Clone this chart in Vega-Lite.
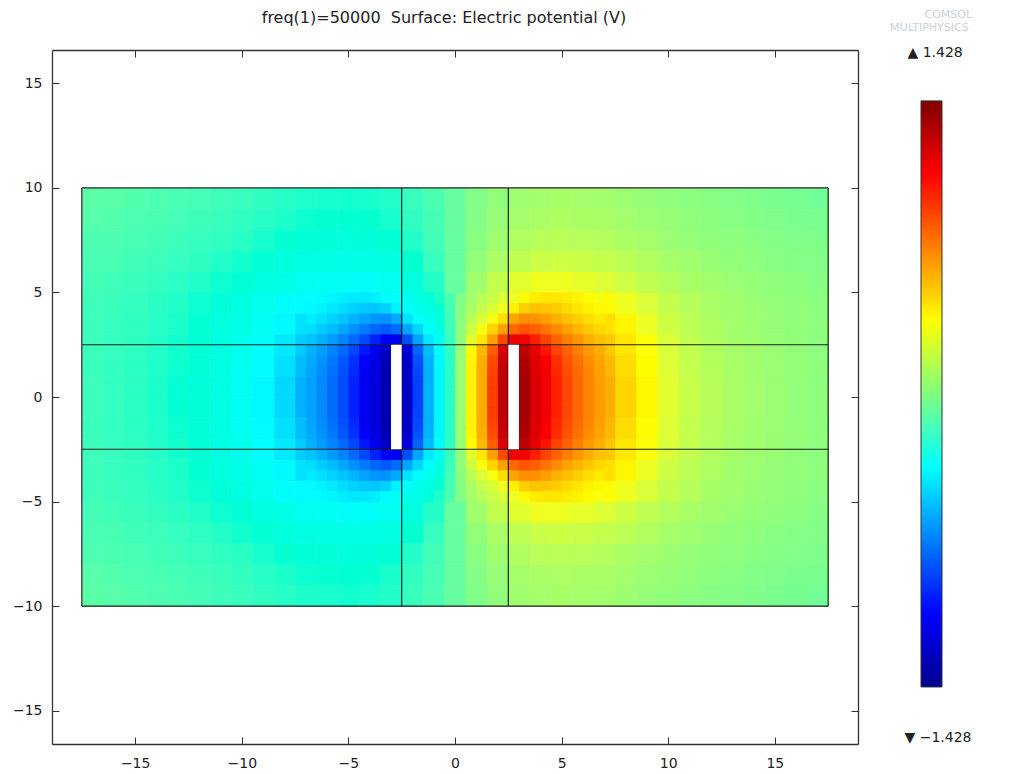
{
"$schema":"https://vega.github.io/schema/vega-lite/v6.json",
"padding":{"left":12,"top":8,"right":5,"bottom":5},
"config":{"font":"DejaVu Sans","view":{"stroke":null},"axis":{"labelFont":"DejaVu Sans","labelFontSize":14,"labelColor":"#222","domainColor":"#333","tickColor":"#333","domainWidth":1.3,"grid":false}},
"datasets":{
"field":[
{"x":-17.5,"y":9,"v":-0.025},{"x":-16.5,"y":9,"v":-0.035},{"x":-15.5,"y":9,"v":-0.045},{"x":-14.5,"y":9,"v":-0.055},{"x":-13.5,"y":9,"v":-0.065},{"x":-12.5,"y":9,"v":-0.075},{"x":-11.5,"y":9,"v":-0.085},{"x":-10.5,"y":9,"v":-0.095},{"x":-9.5,"y":9,"v":-0.11},{"x":-8.5,"y":9,"v":-0.125},{"x":-7.5,"y":9,"v":-0.14},{"x":-6.5,"y":9,"v":-0.145},{"x":-5.5,"y":9,"v":-0.15},{"x":-4.5,"y":9,"v":-0.145},{"x":-3.5,"y":9,"v":-0.13},{"x":-2.5,"y":9,"v":-0.1},{"x":-1.5,"y":9,"v":-0.06},{"x":-0.5,"y":9,"v":0},{"x":0.5,"y":9,"v":0.06},{"x":1.5,"y":9,"v":0.1},{"x":2.5,"y":9,"v":0.13},{"x":3.5,"y":9,"v":0.145},{"x":4.5,"y":9,"v":0.15},{"x":5.5,"y":9,"v":0.145},{"x":6.5,"y":9,"v":0.14},{"x":7.5,"y":9,"v":0.125},{"x":8.5,"y":9,"v":0.11},{"x":9.5,"y":9,"v":0.095},{"x":10.5,"y":9,"v":0.085},{"x":11.5,"y":9,"v":0.075},{"x":12.5,"y":9,"v":0.065},{"x":13.5,"y":9,"v":0.055},{"x":14.5,"y":9,"v":0.045},{"x":15.5,"y":9,"v":0.035},{"x":16.5,"y":9,"v":0.025},
{"x":-17.5,"y":8,"v":-0.04},{"x":-16.5,"y":8,"v":-0.045},{"x":-15.5,"y":8,"v":-0.055},{"x":-14.5,"y":8,"v":-0.065},{"x":-13.5,"y":8,"v":-0.075},{"x":-12.5,"y":8,"v":-0.085},{"x":-11.5,"y":8,"v":-0.095},{"x":-10.5,"y":8,"v":-0.11},{"x":-9.5,"y":8,"v":-0.125},{"x":-8.5,"y":8,"v":-0.14},{"x":-7.5,"y":8,"v":-0.155},{"x":-6.5,"y":8,"v":-0.16},{"x":-5.5,"y":8,"v":-0.165},{"x":-4.5,"y":8,"v":-0.16},{"x":-3.5,"y":8,"v":-0.145},{"x":-2.5,"y":8,"v":-0.11},{"x":-1.5,"y":8,"v":-0.07},{"x":-0.5,"y":8,"v":0},{"x":0.5,"y":8,"v":0.07},{"x":1.5,"y":8,"v":0.11},{"x":2.5,"y":8,"v":0.145},{"x":3.5,"y":8,"v":0.16},{"x":4.5,"y":8,"v":0.165},{"x":5.5,"y":8,"v":0.16},{"x":6.5,"y":8,"v":0.155},{"x":7.5,"y":8,"v":0.14},{"x":8.5,"y":8,"v":0.125},{"x":9.5,"y":8,"v":0.11},{"x":10.5,"y":8,"v":0.095},{"x":11.5,"y":8,"v":0.085},{"x":12.5,"y":8,"v":0.075},{"x":13.5,"y":8,"v":0.065},{"x":14.5,"y":8,"v":0.055},{"x":15.5,"y":8,"v":0.045},{"x":16.5,"y":8,"v":0.04},
{"x":-17.5,"y":7,"v":-0.055},{"x":-16.5,"y":7,"v":-0.06},{"x":-15.5,"y":7,"v":-0.07},{"x":-14.5,"y":7,"v":-0.08},{"x":-13.5,"y":7,"v":-0.09},{"x":-12.5,"y":7,"v":-0.1},{"x":-11.5,"y":7,"v":-0.11},{"x":-10.5,"y":7,"v":-0.125},{"x":-9.5,"y":7,"v":-0.145},{"x":-8.5,"y":7,"v":-0.16},{"x":-7.5,"y":7,"v":-0.18},{"x":-6.5,"y":7,"v":-0.19},{"x":-5.5,"y":7,"v":-0.195},{"x":-4.5,"y":7,"v":-0.19},{"x":-3.5,"y":7,"v":-0.17},{"x":-2.5,"y":7,"v":-0.13},{"x":-1.5,"y":7,"v":-0.08},{"x":-0.5,"y":7,"v":0},{"x":0.5,"y":7,"v":0.08},{"x":1.5,"y":7,"v":0.13},{"x":2.5,"y":7,"v":0.17},{"x":3.5,"y":7,"v":0.19},{"x":4.5,"y":7,"v":0.195},{"x":5.5,"y":7,"v":0.19},{"x":6.5,"y":7,"v":0.18},{"x":7.5,"y":7,"v":0.16},{"x":8.5,"y":7,"v":0.145},{"x":9.5,"y":7,"v":0.125},{"x":10.5,"y":7,"v":0.11},{"x":11.5,"y":7,"v":0.1},{"x":12.5,"y":7,"v":0.09},{"x":13.5,"y":7,"v":0.08},{"x":14.5,"y":7,"v":0.07},{"x":15.5,"y":7,"v":0.06},{"x":16.5,"y":7,"v":0.055},
{"x":-17.5,"y":6,"v":-0.065},{"x":-16.5,"y":6,"v":-0.07},{"x":-15.5,"y":6,"v":-0.08},{"x":-14.5,"y":6,"v":-0.09},{"x":-13.5,"y":6,"v":-0.1},{"x":-12.5,"y":6,"v":-0.115},{"x":-11.5,"y":6,"v":-0.13},{"x":-10.5,"y":6,"v":-0.15},{"x":-9.5,"y":6,"v":-0.175},{"x":-8.5,"y":6,"v":-0.2},{"x":-7.5,"y":6,"v":-0.22},{"x":-6.5,"y":6,"v":-0.235},{"x":-5.5,"y":6,"v":-0.24},{"x":-4.5,"y":6,"v":-0.235},{"x":-3.5,"y":6,"v":-0.21},{"x":-2.5,"y":6,"v":-0.16},{"x":-1.5,"y":6,"v":-0.1},{"x":-0.5,"y":6,"v":0},{"x":0.5,"y":6,"v":0.1},{"x":1.5,"y":6,"v":0.16},{"x":2.5,"y":6,"v":0.21},{"x":3.5,"y":6,"v":0.235},{"x":4.5,"y":6,"v":0.24},{"x":5.5,"y":6,"v":0.235},{"x":6.5,"y":6,"v":0.22},{"x":7.5,"y":6,"v":0.2},{"x":8.5,"y":6,"v":0.175},{"x":9.5,"y":6,"v":0.15},{"x":10.5,"y":6,"v":0.13},{"x":11.5,"y":6,"v":0.115},{"x":12.5,"y":6,"v":0.1},{"x":13.5,"y":6,"v":0.09},{"x":14.5,"y":6,"v":0.08},{"x":15.5,"y":6,"v":0.07},{"x":16.5,"y":6,"v":0.065},
{"x":-17.5,"y":5,"v":-0.075},{"x":-16.5,"y":5,"v":-0.085},{"x":-15.5,"y":5,"v":-0.095},{"x":-14.5,"y":5,"v":-0.105},{"x":-13.5,"y":5,"v":-0.12},{"x":-12.5,"y":5,"v":-0.135},{"x":-11.5,"y":5,"v":-0.155},{"x":-10.5,"y":5,"v":-0.18},{"x":-9.5,"y":5,"v":-0.21},{"x":-8.5,"y":5,"v":-0.245},{"x":-7.5,"y":5,"v":-0.28},{"x":-6.5,"y":5,"v":-0.3},{"x":-5.5,"y":5,"v":-0.32},{"x":-4.5,"y":5,"v":-0.32},{"x":-3.5,"y":5,"v":-0.29},{"x":-2.5,"y":5,"v":-0.22},{"x":-1.5,"y":5,"v":-0.13},{"x":-0.5,"y":5,"v":0},{"x":0.5,"y":5,"v":0.13},{"x":1.5,"y":5,"v":0.22},{"x":2.5,"y":5,"v":0.29},{"x":3.5,"y":5,"v":0.32},{"x":4.5,"y":5,"v":0.32},{"x":5.5,"y":5,"v":0.3},{"x":6.5,"y":5,"v":0.28},{"x":7.5,"y":5,"v":0.245},{"x":8.5,"y":5,"v":0.21},{"x":9.5,"y":5,"v":0.18},{"x":10.5,"y":5,"v":0.155},{"x":11.5,"y":5,"v":0.135},{"x":12.5,"y":5,"v":0.12},{"x":13.5,"y":5,"v":0.105},{"x":14.5,"y":5,"v":0.095},{"x":15.5,"y":5,"v":0.085},{"x":16.5,"y":5,"v":0.075},
{"x":-17.5,"y":4,"v":-0.085},{"x":-16.5,"y":4,"v":-0.095},{"x":-15.5,"y":4,"v":-0.105},{"x":-14.5,"y":4,"v":-0.12},{"x":-13.5,"y":4,"v":-0.135},{"x":-12.5,"y":4,"v":-0.155},{"x":-11.5,"y":4,"v":-0.185},{"x":-10.5,"y":4,"v":-0.22},{"x":-9.5,"y":4,"v":-0.27},{"x":-8.5,"y":4,"v":-0.32},{"x":-7.5,"y":4,"v":-0.37},{"x":-6.5,"y":4,"v":-0.44},{"x":-5.5,"y":4,"v":-0.5},{"x":-4.5,"y":4,"v":-0.52},{"x":-3.5,"y":4,"v":-0.45},{"x":-2.5,"y":4,"v":-0.3},{"x":-1.5,"y":4,"v":-0.18},{"x":-0.5,"y":4,"v":0},{"x":0.5,"y":4,"v":0.18},{"x":1.5,"y":4,"v":0.3},{"x":2.5,"y":4,"v":0.45},{"x":3.5,"y":4,"v":0.52},{"x":4.5,"y":4,"v":0.5},{"x":5.5,"y":4,"v":0.44},{"x":6.5,"y":4,"v":0.37},{"x":7.5,"y":4,"v":0.32},{"x":8.5,"y":4,"v":0.27},{"x":9.5,"y":4,"v":0.22},{"x":10.5,"y":4,"v":0.185},{"x":11.5,"y":4,"v":0.155},{"x":12.5,"y":4,"v":0.135},{"x":13.5,"y":4,"v":0.12},{"x":14.5,"y":4,"v":0.105},{"x":15.5,"y":4,"v":0.095},{"x":16.5,"y":4,"v":0.085},
{"x":-17.5,"y":3,"v":-0.09},{"x":-16.5,"y":3,"v":-0.1},{"x":-15.5,"y":3,"v":-0.11},{"x":-14.5,"y":3,"v":-0.125},{"x":-13.5,"y":3,"v":-0.14},{"x":-12.5,"y":3,"v":-0.165},{"x":-11.5,"y":3,"v":-0.2},{"x":-10.5,"y":3,"v":-0.245},{"x":-9.5,"y":3,"v":-0.31},{"x":-8.5,"y":3,"v":-0.39},{"x":-7.5,"y":3,"v":-0.48},{"x":-6.5,"y":3,"v":-0.58},{"x":-5.5,"y":3,"v":-0.7},{"x":-4.5,"y":3,"v":-0.8},{"x":-3.5,"y":3,"v":-0.86},{"x":-2.5,"y":3,"v":-0.58},{"x":-1.5,"y":3,"v":-0.29},{"x":-0.5,"y":3,"v":0},{"x":0.5,"y":3,"v":0.29},{"x":1.5,"y":3,"v":0.58},{"x":2.5,"y":3,"v":0.86},{"x":3.5,"y":3,"v":0.8},{"x":4.5,"y":3,"v":0.7},{"x":5.5,"y":3,"v":0.58},{"x":6.5,"y":3,"v":0.48},{"x":7.5,"y":3,"v":0.39},{"x":8.5,"y":3,"v":0.31},{"x":9.5,"y":3,"v":0.245},{"x":10.5,"y":3,"v":0.2},{"x":11.5,"y":3,"v":0.165},{"x":12.5,"y":3,"v":0.14},{"x":13.5,"y":3,"v":0.125},{"x":14.5,"y":3,"v":0.11},{"x":15.5,"y":3,"v":0.1},{"x":16.5,"y":3,"v":0.09},
{"x":-17.5,"y":2,"v":-0.09},{"x":-16.5,"y":2,"v":-0.1},{"x":-15.5,"y":2,"v":-0.115},{"x":-14.5,"y":2,"v":-0.13},{"x":-13.5,"y":2,"v":-0.15},{"x":-12.5,"y":2,"v":-0.175},{"x":-11.5,"y":2,"v":-0.215},{"x":-10.5,"y":2,"v":-0.27},{"x":-9.5,"y":2,"v":-0.35},{"x":-8.5,"y":2,"v":-0.45},{"x":-7.5,"y":2,"v":-0.57},{"x":-6.5,"y":2,"v":-0.73},{"x":-5.5,"y":2,"v":-0.92},{"x":-4.5,"y":2,"v":-1.12},{"x":-3.5,"y":2,"v":-1.25},{"x":-2.5,"y":2,"v":-0.93},{"x":-1.5,"y":2,"v":-0.47},{"x":-0.5,"y":2,"v":0},{"x":0.5,"y":2,"v":0.47},{"x":1.5,"y":2,"v":0.93},{"x":2.5,"y":2,"v":1.25},{"x":3.5,"y":2,"v":1.12},{"x":4.5,"y":2,"v":0.92},{"x":5.5,"y":2,"v":0.73},{"x":6.5,"y":2,"v":0.57},{"x":7.5,"y":2,"v":0.45},{"x":8.5,"y":2,"v":0.35},{"x":9.5,"y":2,"v":0.27},{"x":10.5,"y":2,"v":0.215},{"x":11.5,"y":2,"v":0.175},{"x":12.5,"y":2,"v":0.15},{"x":13.5,"y":2,"v":0.13},{"x":14.5,"y":2,"v":0.115},{"x":15.5,"y":2,"v":0.1},{"x":16.5,"y":2,"v":0.09},
{"x":-17.5,"y":1,"v":-0.095},{"x":-16.5,"y":1,"v":-0.105},{"x":-15.5,"y":1,"v":-0.12},{"x":-14.5,"y":1,"v":-0.135},{"x":-13.5,"y":1,"v":-0.155},{"x":-12.5,"y":1,"v":-0.18},{"x":-11.5,"y":1,"v":-0.22},{"x":-10.5,"y":1,"v":-0.28},{"x":-9.5,"y":1,"v":-0.37},{"x":-8.5,"y":1,"v":-0.49},{"x":-7.5,"y":1,"v":-0.63},{"x":-6.5,"y":1,"v":-0.8},{"x":-5.5,"y":1,"v":-1.0},{"x":-4.5,"y":1,"v":-1.22},{"x":-3.5,"y":1,"v":-1.37},{"x":-2.5,"y":1,"v":-1.08},{"x":-1.5,"y":1,"v":-0.53},{"x":-0.5,"y":1,"v":0},{"x":0.5,"y":1,"v":0.53},{"x":1.5,"y":1,"v":1.08},{"x":2.5,"y":1,"v":1.37},{"x":3.5,"y":1,"v":1.22},{"x":4.5,"y":1,"v":1.0},{"x":5.5,"y":1,"v":0.8},{"x":6.5,"y":1,"v":0.63},{"x":7.5,"y":1,"v":0.49},{"x":8.5,"y":1,"v":0.37},{"x":9.5,"y":1,"v":0.28},{"x":10.5,"y":1,"v":0.22},{"x":11.5,"y":1,"v":0.18},{"x":12.5,"y":1,"v":0.155},{"x":13.5,"y":1,"v":0.135},{"x":14.5,"y":1,"v":0.12},{"x":15.5,"y":1,"v":0.105},{"x":16.5,"y":1,"v":0.095},
{"x":-17.5,"y":0,"v":-0.09},{"x":-16.5,"y":0,"v":-0.105},{"x":-15.5,"y":0,"v":-0.12},{"x":-14.5,"y":0,"v":-0.14},{"x":-13.5,"y":0,"v":-0.16},{"x":-12.5,"y":0,"v":-0.185},{"x":-11.5,"y":0,"v":-0.225},{"x":-10.5,"y":0,"v":-0.29},{"x":-9.5,"y":0,"v":-0.39},{"x":-8.5,"y":0,"v":-0.52},{"x":-7.5,"y":0,"v":-0.67},{"x":-6.5,"y":0,"v":-0.84},{"x":-5.5,"y":0,"v":-1.03},{"x":-4.5,"y":0,"v":-1.25},{"x":-3.5,"y":0,"v":-1.38},{"x":-2.5,"y":0,"v":-1.13},{"x":-1.5,"y":0,"v":-0.55},{"x":-0.5,"y":0,"v":0},{"x":0.5,"y":0,"v":0.55},{"x":1.5,"y":0,"v":1.13},{"x":2.5,"y":0,"v":1.38},{"x":3.5,"y":0,"v":1.25},{"x":4.5,"y":0,"v":1.03},{"x":5.5,"y":0,"v":0.84},{"x":6.5,"y":0,"v":0.67},{"x":7.5,"y":0,"v":0.52},{"x":8.5,"y":0,"v":0.39},{"x":9.5,"y":0,"v":0.29},{"x":10.5,"y":0,"v":0.225},{"x":11.5,"y":0,"v":0.185},{"x":12.5,"y":0,"v":0.16},{"x":13.5,"y":0,"v":0.14},{"x":14.5,"y":0,"v":0.12},{"x":15.5,"y":0,"v":0.105},{"x":16.5,"y":0,"v":0.09},
{"x":-17.5,"y":-1,"v":-0.09},{"x":-16.5,"y":-1,"v":-0.105},{"x":-15.5,"y":-1,"v":-0.12},{"x":-14.5,"y":-1,"v":-0.14},{"x":-13.5,"y":-1,"v":-0.16},{"x":-12.5,"y":-1,"v":-0.185},{"x":-11.5,"y":-1,"v":-0.225},{"x":-10.5,"y":-1,"v":-0.29},{"x":-9.5,"y":-1,"v":-0.39},{"x":-8.5,"y":-1,"v":-0.52},{"x":-7.5,"y":-1,"v":-0.67},{"x":-6.5,"y":-1,"v":-0.84},{"x":-5.5,"y":-1,"v":-1.03},{"x":-4.5,"y":-1,"v":-1.25},{"x":-3.5,"y":-1,"v":-1.38},{"x":-2.5,"y":-1,"v":-1.13},{"x":-1.5,"y":-1,"v":-0.55},{"x":-0.5,"y":-1,"v":0},{"x":0.5,"y":-1,"v":0.55},{"x":1.5,"y":-1,"v":1.13},{"x":2.5,"y":-1,"v":1.38},{"x":3.5,"y":-1,"v":1.25},{"x":4.5,"y":-1,"v":1.03},{"x":5.5,"y":-1,"v":0.84},{"x":6.5,"y":-1,"v":0.67},{"x":7.5,"y":-1,"v":0.52},{"x":8.5,"y":-1,"v":0.39},{"x":9.5,"y":-1,"v":0.29},{"x":10.5,"y":-1,"v":0.225},{"x":11.5,"y":-1,"v":0.185},{"x":12.5,"y":-1,"v":0.16},{"x":13.5,"y":-1,"v":0.14},{"x":14.5,"y":-1,"v":0.12},{"x":15.5,"y":-1,"v":0.105},{"x":16.5,"y":-1,"v":0.09},
{"x":-17.5,"y":-2,"v":-0.095},{"x":-16.5,"y":-2,"v":-0.105},{"x":-15.5,"y":-2,"v":-0.12},{"x":-14.5,"y":-2,"v":-0.135},{"x":-13.5,"y":-2,"v":-0.155},{"x":-12.5,"y":-2,"v":-0.18},{"x":-11.5,"y":-2,"v":-0.22},{"x":-10.5,"y":-2,"v":-0.28},{"x":-9.5,"y":-2,"v":-0.37},{"x":-8.5,"y":-2,"v":-0.49},{"x":-7.5,"y":-2,"v":-0.63},{"x":-6.5,"y":-2,"v":-0.8},{"x":-5.5,"y":-2,"v":-1.0},{"x":-4.5,"y":-2,"v":-1.22},{"x":-3.5,"y":-2,"v":-1.37},{"x":-2.5,"y":-2,"v":-1.08},{"x":-1.5,"y":-2,"v":-0.53},{"x":-0.5,"y":-2,"v":0},{"x":0.5,"y":-2,"v":0.53},{"x":1.5,"y":-2,"v":1.08},{"x":2.5,"y":-2,"v":1.37},{"x":3.5,"y":-2,"v":1.22},{"x":4.5,"y":-2,"v":1.0},{"x":5.5,"y":-2,"v":0.8},{"x":6.5,"y":-2,"v":0.63},{"x":7.5,"y":-2,"v":0.49},{"x":8.5,"y":-2,"v":0.37},{"x":9.5,"y":-2,"v":0.28},{"x":10.5,"y":-2,"v":0.22},{"x":11.5,"y":-2,"v":0.18},{"x":12.5,"y":-2,"v":0.155},{"x":13.5,"y":-2,"v":0.135},{"x":14.5,"y":-2,"v":0.12},{"x":15.5,"y":-2,"v":0.105},{"x":16.5,"y":-2,"v":0.095},
{"x":-17.5,"y":-3,"v":-0.09},{"x":-16.5,"y":-3,"v":-0.1},{"x":-15.5,"y":-3,"v":-0.115},{"x":-14.5,"y":-3,"v":-0.13},{"x":-13.5,"y":-3,"v":-0.15},{"x":-12.5,"y":-3,"v":-0.175},{"x":-11.5,"y":-3,"v":-0.215},{"x":-10.5,"y":-3,"v":-0.27},{"x":-9.5,"y":-3,"v":-0.35},{"x":-8.5,"y":-3,"v":-0.45},{"x":-7.5,"y":-3,"v":-0.57},{"x":-6.5,"y":-3,"v":-0.73},{"x":-5.5,"y":-3,"v":-0.92},{"x":-4.5,"y":-3,"v":-1.12},{"x":-3.5,"y":-3,"v":-1.25},{"x":-2.5,"y":-3,"v":-0.93},{"x":-1.5,"y":-3,"v":-0.47},{"x":-0.5,"y":-3,"v":0},{"x":0.5,"y":-3,"v":0.47},{"x":1.5,"y":-3,"v":0.93},{"x":2.5,"y":-3,"v":1.25},{"x":3.5,"y":-3,"v":1.12},{"x":4.5,"y":-3,"v":0.92},{"x":5.5,"y":-3,"v":0.73},{"x":6.5,"y":-3,"v":0.57},{"x":7.5,"y":-3,"v":0.45},{"x":8.5,"y":-3,"v":0.35},{"x":9.5,"y":-3,"v":0.27},{"x":10.5,"y":-3,"v":0.215},{"x":11.5,"y":-3,"v":0.175},{"x":12.5,"y":-3,"v":0.15},{"x":13.5,"y":-3,"v":0.13},{"x":14.5,"y":-3,"v":0.115},{"x":15.5,"y":-3,"v":0.1},{"x":16.5,"y":-3,"v":0.09},
{"x":-17.5,"y":-4,"v":-0.09},{"x":-16.5,"y":-4,"v":-0.1},{"x":-15.5,"y":-4,"v":-0.11},{"x":-14.5,"y":-4,"v":-0.125},{"x":-13.5,"y":-4,"v":-0.14},{"x":-12.5,"y":-4,"v":-0.165},{"x":-11.5,"y":-4,"v":-0.2},{"x":-10.5,"y":-4,"v":-0.245},{"x":-9.5,"y":-4,"v":-0.31},{"x":-8.5,"y":-4,"v":-0.39},{"x":-7.5,"y":-4,"v":-0.48},{"x":-6.5,"y":-4,"v":-0.58},{"x":-5.5,"y":-4,"v":-0.7},{"x":-4.5,"y":-4,"v":-0.8},{"x":-3.5,"y":-4,"v":-0.86},{"x":-2.5,"y":-4,"v":-0.58},{"x":-1.5,"y":-4,"v":-0.29},{"x":-0.5,"y":-4,"v":0},{"x":0.5,"y":-4,"v":0.29},{"x":1.5,"y":-4,"v":0.58},{"x":2.5,"y":-4,"v":0.86},{"x":3.5,"y":-4,"v":0.8},{"x":4.5,"y":-4,"v":0.7},{"x":5.5,"y":-4,"v":0.58},{"x":6.5,"y":-4,"v":0.48},{"x":7.5,"y":-4,"v":0.39},{"x":8.5,"y":-4,"v":0.31},{"x":9.5,"y":-4,"v":0.245},{"x":10.5,"y":-4,"v":0.2},{"x":11.5,"y":-4,"v":0.165},{"x":12.5,"y":-4,"v":0.14},{"x":13.5,"y":-4,"v":0.125},{"x":14.5,"y":-4,"v":0.11},{"x":15.5,"y":-4,"v":0.1},{"x":16.5,"y":-4,"v":0.09},
{"x":-17.5,"y":-5,"v":-0.085},{"x":-16.5,"y":-5,"v":-0.095},{"x":-15.5,"y":-5,"v":-0.105},{"x":-14.5,"y":-5,"v":-0.12},{"x":-13.5,"y":-5,"v":-0.135},{"x":-12.5,"y":-5,"v":-0.155},{"x":-11.5,"y":-5,"v":-0.185},{"x":-10.5,"y":-5,"v":-0.22},{"x":-9.5,"y":-5,"v":-0.27},{"x":-8.5,"y":-5,"v":-0.32},{"x":-7.5,"y":-5,"v":-0.37},{"x":-6.5,"y":-5,"v":-0.44},{"x":-5.5,"y":-5,"v":-0.5},{"x":-4.5,"y":-5,"v":-0.52},{"x":-3.5,"y":-5,"v":-0.45},{"x":-2.5,"y":-5,"v":-0.3},{"x":-1.5,"y":-5,"v":-0.18},{"x":-0.5,"y":-5,"v":0},{"x":0.5,"y":-5,"v":0.18},{"x":1.5,"y":-5,"v":0.3},{"x":2.5,"y":-5,"v":0.45},{"x":3.5,"y":-5,"v":0.52},{"x":4.5,"y":-5,"v":0.5},{"x":5.5,"y":-5,"v":0.44},{"x":6.5,"y":-5,"v":0.37},{"x":7.5,"y":-5,"v":0.32},{"x":8.5,"y":-5,"v":0.27},{"x":9.5,"y":-5,"v":0.22},{"x":10.5,"y":-5,"v":0.185},{"x":11.5,"y":-5,"v":0.155},{"x":12.5,"y":-5,"v":0.135},{"x":13.5,"y":-5,"v":0.12},{"x":14.5,"y":-5,"v":0.105},{"x":15.5,"y":-5,"v":0.095},{"x":16.5,"y":-5,"v":0.085},
{"x":-17.5,"y":-6,"v":-0.075},{"x":-16.5,"y":-6,"v":-0.085},{"x":-15.5,"y":-6,"v":-0.095},{"x":-14.5,"y":-6,"v":-0.105},{"x":-13.5,"y":-6,"v":-0.12},{"x":-12.5,"y":-6,"v":-0.135},{"x":-11.5,"y":-6,"v":-0.155},{"x":-10.5,"y":-6,"v":-0.18},{"x":-9.5,"y":-6,"v":-0.21},{"x":-8.5,"y":-6,"v":-0.245},{"x":-7.5,"y":-6,"v":-0.28},{"x":-6.5,"y":-6,"v":-0.3},{"x":-5.5,"y":-6,"v":-0.32},{"x":-4.5,"y":-6,"v":-0.32},{"x":-3.5,"y":-6,"v":-0.29},{"x":-2.5,"y":-6,"v":-0.22},{"x":-1.5,"y":-6,"v":-0.13},{"x":-0.5,"y":-6,"v":0},{"x":0.5,"y":-6,"v":0.13},{"x":1.5,"y":-6,"v":0.22},{"x":2.5,"y":-6,"v":0.29},{"x":3.5,"y":-6,"v":0.32},{"x":4.5,"y":-6,"v":0.32},{"x":5.5,"y":-6,"v":0.3},{"x":6.5,"y":-6,"v":0.28},{"x":7.5,"y":-6,"v":0.245},{"x":8.5,"y":-6,"v":0.21},{"x":9.5,"y":-6,"v":0.18},{"x":10.5,"y":-6,"v":0.155},{"x":11.5,"y":-6,"v":0.135},{"x":12.5,"y":-6,"v":0.12},{"x":13.5,"y":-6,"v":0.105},{"x":14.5,"y":-6,"v":0.095},{"x":15.5,"y":-6,"v":0.085},{"x":16.5,"y":-6,"v":0.075},
{"x":-17.5,"y":-7,"v":-0.065},{"x":-16.5,"y":-7,"v":-0.07},{"x":-15.5,"y":-7,"v":-0.08},{"x":-14.5,"y":-7,"v":-0.09},{"x":-13.5,"y":-7,"v":-0.1},{"x":-12.5,"y":-7,"v":-0.115},{"x":-11.5,"y":-7,"v":-0.13},{"x":-10.5,"y":-7,"v":-0.15},{"x":-9.5,"y":-7,"v":-0.175},{"x":-8.5,"y":-7,"v":-0.2},{"x":-7.5,"y":-7,"v":-0.22},{"x":-6.5,"y":-7,"v":-0.235},{"x":-5.5,"y":-7,"v":-0.24},{"x":-4.5,"y":-7,"v":-0.235},{"x":-3.5,"y":-7,"v":-0.21},{"x":-2.5,"y":-7,"v":-0.16},{"x":-1.5,"y":-7,"v":-0.1},{"x":-0.5,"y":-7,"v":0},{"x":0.5,"y":-7,"v":0.1},{"x":1.5,"y":-7,"v":0.16},{"x":2.5,"y":-7,"v":0.21},{"x":3.5,"y":-7,"v":0.235},{"x":4.5,"y":-7,"v":0.24},{"x":5.5,"y":-7,"v":0.235},{"x":6.5,"y":-7,"v":0.22},{"x":7.5,"y":-7,"v":0.2},{"x":8.5,"y":-7,"v":0.175},{"x":9.5,"y":-7,"v":0.15},{"x":10.5,"y":-7,"v":0.13},{"x":11.5,"y":-7,"v":0.115},{"x":12.5,"y":-7,"v":0.1},{"x":13.5,"y":-7,"v":0.09},{"x":14.5,"y":-7,"v":0.08},{"x":15.5,"y":-7,"v":0.07},{"x":16.5,"y":-7,"v":0.065},
{"x":-17.5,"y":-8,"v":-0.055},{"x":-16.5,"y":-8,"v":-0.06},{"x":-15.5,"y":-8,"v":-0.07},{"x":-14.5,"y":-8,"v":-0.08},{"x":-13.5,"y":-8,"v":-0.09},{"x":-12.5,"y":-8,"v":-0.1},{"x":-11.5,"y":-8,"v":-0.11},{"x":-10.5,"y":-8,"v":-0.125},{"x":-9.5,"y":-8,"v":-0.145},{"x":-8.5,"y":-8,"v":-0.16},{"x":-7.5,"y":-8,"v":-0.18},{"x":-6.5,"y":-8,"v":-0.19},{"x":-5.5,"y":-8,"v":-0.195},{"x":-4.5,"y":-8,"v":-0.19},{"x":-3.5,"y":-8,"v":-0.17},{"x":-2.5,"y":-8,"v":-0.13},{"x":-1.5,"y":-8,"v":-0.08},{"x":-0.5,"y":-8,"v":0},{"x":0.5,"y":-8,"v":0.08},{"x":1.5,"y":-8,"v":0.13},{"x":2.5,"y":-8,"v":0.17},{"x":3.5,"y":-8,"v":0.19},{"x":4.5,"y":-8,"v":0.195},{"x":5.5,"y":-8,"v":0.19},{"x":6.5,"y":-8,"v":0.18},{"x":7.5,"y":-8,"v":0.16},{"x":8.5,"y":-8,"v":0.145},{"x":9.5,"y":-8,"v":0.125},{"x":10.5,"y":-8,"v":0.11},{"x":11.5,"y":-8,"v":0.1},{"x":12.5,"y":-8,"v":0.09},{"x":13.5,"y":-8,"v":0.08},{"x":14.5,"y":-8,"v":0.07},{"x":15.5,"y":-8,"v":0.06},{"x":16.5,"y":-8,"v":0.055},
{"x":-17.5,"y":-9,"v":-0.04},{"x":-16.5,"y":-9,"v":-0.045},{"x":-15.5,"y":-9,"v":-0.055},{"x":-14.5,"y":-9,"v":-0.065},{"x":-13.5,"y":-9,"v":-0.075},{"x":-12.5,"y":-9,"v":-0.085},{"x":-11.5,"y":-9,"v":-0.095},{"x":-10.5,"y":-9,"v":-0.11},{"x":-9.5,"y":-9,"v":-0.125},{"x":-8.5,"y":-9,"v":-0.14},{"x":-7.5,"y":-9,"v":-0.155},{"x":-6.5,"y":-9,"v":-0.16},{"x":-5.5,"y":-9,"v":-0.165},{"x":-4.5,"y":-9,"v":-0.16},{"x":-3.5,"y":-9,"v":-0.145},{"x":-2.5,"y":-9,"v":-0.11},{"x":-1.5,"y":-9,"v":-0.07},{"x":-0.5,"y":-9,"v":0},{"x":0.5,"y":-9,"v":0.07},{"x":1.5,"y":-9,"v":0.11},{"x":2.5,"y":-9,"v":0.145},{"x":3.5,"y":-9,"v":0.16},{"x":4.5,"y":-9,"v":0.165},{"x":5.5,"y":-9,"v":0.16},{"x":6.5,"y":-9,"v":0.155},{"x":7.5,"y":-9,"v":0.14},{"x":8.5,"y":-9,"v":0.125},{"x":9.5,"y":-9,"v":0.11},{"x":10.5,"y":-9,"v":0.095},{"x":11.5,"y":-9,"v":0.085},{"x":12.5,"y":-9,"v":0.075},{"x":13.5,"y":-9,"v":0.065},{"x":14.5,"y":-9,"v":0.055},{"x":15.5,"y":-9,"v":0.045},{"x":16.5,"y":-9,"v":0.04},
{"x":-17.5,"y":-10,"v":-0.025},{"x":-16.5,"y":-10,"v":-0.035},{"x":-15.5,"y":-10,"v":-0.045},{"x":-14.5,"y":-10,"v":-0.055},{"x":-13.5,"y":-10,"v":-0.065},{"x":-12.5,"y":-10,"v":-0.075},{"x":-11.5,"y":-10,"v":-0.085},{"x":-10.5,"y":-10,"v":-0.095},{"x":-9.5,"y":-10,"v":-0.11},{"x":-8.5,"y":-10,"v":-0.125},{"x":-7.5,"y":-10,"v":-0.14},{"x":-6.5,"y":-10,"v":-0.145},{"x":-5.5,"y":-10,"v":-0.15},{"x":-4.5,"y":-10,"v":-0.145},{"x":-3.5,"y":-10,"v":-0.13},{"x":-2.5,"y":-10,"v":-0.1},{"x":-1.5,"y":-10,"v":-0.06},{"x":-0.5,"y":-10,"v":0},{"x":0.5,"y":-10,"v":0.06},{"x":1.5,"y":-10,"v":0.1},{"x":2.5,"y":-10,"v":0.13},{"x":3.5,"y":-10,"v":0.145},{"x":4.5,"y":-10,"v":0.15},{"x":5.5,"y":-10,"v":0.145},{"x":6.5,"y":-10,"v":0.14},{"x":7.5,"y":-10,"v":0.125},{"x":8.5,"y":-10,"v":0.11},{"x":9.5,"y":-10,"v":0.095},{"x":10.5,"y":-10,"v":0.085},{"x":11.5,"y":-10,"v":0.075},{"x":12.5,"y":-10,"v":0.065},{"x":13.5,"y":-10,"v":0.055},{"x":14.5,"y":-10,"v":0.045},{"x":15.5,"y":-10,"v":0.035},{"x":16.5,"y":-10,"v":0.025}
],
"fine":[
{"x":-7,"y":4.5,"v":-0.34},{"x":-6.5,"y":4.5,"v":-0.37},{"x":-6,"y":4.5,"v":-0.4},{"x":-5.5,"y":4.5,"v":-0.43},{"x":-5,"y":4.5,"v":-0.45},{"x":-4.5,"y":4.5,"v":-0.45},{"x":-4,"y":4.5,"v":-0.43},{"x":-3.5,"y":4.5,"v":-0.37},{"x":-3,"y":4.5,"v":-0.31},{"x":-2.5,"y":4.5,"v":-0.27},{"x":-2,"y":4.5,"v":-0.23},{"x":-1.5,"y":4.5,"v":-0.19},{"x":-1,"y":4.5,"v":-0.14},{"x":-0.5,"y":4.5,"v":-0.06},{"x":0,"y":4.5,"v":0.06},{"x":0.5,"y":4.5,"v":0.14},{"x":1,"y":4.5,"v":0.19},{"x":1.5,"y":4.5,"v":0.23},{"x":2,"y":4.5,"v":0.27},{"x":2.5,"y":4.5,"v":0.31},{"x":3,"y":4.5,"v":0.37},{"x":3.5,"y":4.5,"v":0.43},{"x":4,"y":4.5,"v":0.45},{"x":4.5,"y":4.5,"v":0.45},{"x":5,"y":4.5,"v":0.43},{"x":5.5,"y":4.5,"v":0.4},{"x":6,"y":4.5,"v":0.37},{"x":6.5,"y":4.5,"v":0.34},
{"x":-7,"y":4,"v":-0.38},{"x":-6.5,"y":4,"v":-0.41},{"x":-6,"y":4,"v":-0.45},{"x":-5.5,"y":4,"v":-0.5},{"x":-5,"y":4,"v":-0.55},{"x":-4.5,"y":4,"v":-0.58},{"x":-4,"y":4,"v":-0.59},{"x":-3.5,"y":4,"v":-0.55},{"x":-3,"y":4,"v":-0.42},{"x":-2.5,"y":4,"v":-0.32},{"x":-2,"y":4,"v":-0.27},{"x":-1.5,"y":4,"v":-0.22},{"x":-1,"y":4,"v":-0.16},{"x":-0.5,"y":4,"v":-0.07},{"x":0,"y":4,"v":0.07},{"x":0.5,"y":4,"v":0.16},{"x":1,"y":4,"v":0.22},{"x":1.5,"y":4,"v":0.27},{"x":2,"y":4,"v":0.32},{"x":2.5,"y":4,"v":0.42},{"x":3,"y":4,"v":0.55},{"x":3.5,"y":4,"v":0.59},{"x":4,"y":4,"v":0.58},{"x":4.5,"y":4,"v":0.55},{"x":5,"y":4,"v":0.5},{"x":5.5,"y":4,"v":0.45},{"x":6,"y":4,"v":0.41},{"x":6.5,"y":4,"v":0.38},
{"x":-7,"y":3.5,"v":-0.44},{"x":-6.5,"y":3.5,"v":-0.49},{"x":-6,"y":3.5,"v":-0.54},{"x":-5.5,"y":3.5,"v":-0.6},{"x":-5,"y":3.5,"v":-0.66},{"x":-4.5,"y":3.5,"v":-0.72},{"x":-4,"y":3.5,"v":-0.77},{"x":-3.5,"y":3.5,"v":-0.78},{"x":-3,"y":3.5,"v":-0.7},{"x":-2.5,"y":3.5,"v":-0.48},{"x":-2,"y":3.5,"v":-0.34},{"x":-1.5,"y":3.5,"v":-0.27},{"x":-1,"y":3.5,"v":-0.2},{"x":-0.5,"y":3.5,"v":-0.08},{"x":0,"y":3.5,"v":0.08},{"x":0.5,"y":3.5,"v":0.2},{"x":1,"y":3.5,"v":0.27},{"x":1.5,"y":3.5,"v":0.34},{"x":2,"y":3.5,"v":0.48},{"x":2.5,"y":3.5,"v":0.7},{"x":3,"y":3.5,"v":0.78},{"x":3.5,"y":3.5,"v":0.77},{"x":4,"y":3.5,"v":0.72},{"x":4.5,"y":3.5,"v":0.66},{"x":5,"y":3.5,"v":0.6},{"x":5.5,"y":3.5,"v":0.54},{"x":6,"y":3.5,"v":0.49},{"x":6.5,"y":3.5,"v":0.44},
{"x":-7,"y":3,"v":-0.51},{"x":-6.5,"y":3,"v":-0.57},{"x":-6,"y":3,"v":-0.64},{"x":-5.5,"y":3,"v":-0.71},{"x":-5,"y":3,"v":-0.79},{"x":-4.5,"y":3,"v":-0.86},{"x":-4,"y":3,"v":-0.92},{"x":-3.5,"y":3,"v":-0.95},{"x":-3,"y":3,"v":-0.9},{"x":-2.5,"y":3,"v":-0.72},{"x":-2,"y":3,"v":-0.53},{"x":-1.5,"y":3,"v":-0.34},{"x":-1,"y":3,"v":-0.24},{"x":-0.5,"y":3,"v":-0.09},{"x":0,"y":3,"v":0.09},{"x":0.5,"y":3,"v":0.24},{"x":1,"y":3,"v":0.34},{"x":1.5,"y":3,"v":0.53},{"x":2,"y":3,"v":0.72},{"x":2.5,"y":3,"v":0.9},{"x":3,"y":3,"v":0.95},{"x":3.5,"y":3,"v":0.92},{"x":4,"y":3,"v":0.86},{"x":4.5,"y":3,"v":0.79},{"x":5,"y":3,"v":0.71},{"x":5.5,"y":3,"v":0.64},{"x":6,"y":3,"v":0.57},{"x":6.5,"y":3,"v":0.51},
{"x":-7,"y":2.5,"v":-0.6},{"x":-6.5,"y":2.5,"v":-0.67},{"x":-6,"y":2.5,"v":-0.75},{"x":-5.5,"y":2.5,"v":-0.83},{"x":-5,"y":2.5,"v":-0.91},{"x":-4.5,"y":2.5,"v":-0.99},{"x":-4,"y":2.5,"v":-1.05},{"x":-3.5,"y":2.5,"v":-1.1},{"x":-3,"y":2.5,"v":-1.12},{"x":-2.5,"y":2.5,"v":-0.98},{"x":-2,"y":2.5,"v":-0.72},{"x":-1.5,"y":2.5,"v":-0.45},{"x":-1,"y":2.5,"v":-0.29},{"x":-0.5,"y":2.5,"v":-0.1},{"x":0,"y":2.5,"v":0.1},{"x":0.5,"y":2.5,"v":0.29},{"x":1,"y":2.5,"v":0.45},{"x":1.5,"y":2.5,"v":0.72},{"x":2,"y":2.5,"v":0.98},{"x":2.5,"y":2.5,"v":1.12},{"x":3,"y":2.5,"v":1.1},{"x":3.5,"y":2.5,"v":1.05},{"x":4,"y":2.5,"v":0.99},{"x":4.5,"y":2.5,"v":0.91},{"x":5,"y":2.5,"v":0.83},{"x":5.5,"y":2.5,"v":0.75},{"x":6,"y":2.5,"v":0.67},{"x":6.5,"y":2.5,"v":0.6},
{"x":-7,"y":2,"v":-0.67},{"x":-6.5,"y":2,"v":-0.74},{"x":-6,"y":2,"v":-0.83},{"x":-5.5,"y":2,"v":-0.91},{"x":-5,"y":2,"v":-0.99},{"x":-4.5,"y":2,"v":-1.06},{"x":-4,"y":2,"v":-1.13},{"x":-3.5,"y":2,"v":-1.25},{"x":-3,"y":2,"v":-1.4},{"x":-2.5,"y":2,"v":-1.17},{"x":-2,"y":2,"v":-0.92},{"x":-1.5,"y":2,"v":-0.63},{"x":-1,"y":2,"v":-0.37},{"x":-0.5,"y":2,"v":-0.11},{"x":0,"y":2,"v":0.11},{"x":0.5,"y":2,"v":0.37},{"x":1,"y":2,"v":0.63},{"x":1.5,"y":2,"v":0.92},{"x":2,"y":2,"v":1.17},{"x":2.5,"y":2,"v":1.4},{"x":3,"y":2,"v":1.25},{"x":3.5,"y":2,"v":1.13},{"x":4,"y":2,"v":1.06},{"x":4.5,"y":2,"v":0.99},{"x":5,"y":2,"v":0.91},{"x":5.5,"y":2,"v":0.83},{"x":6,"y":2,"v":0.74},{"x":6.5,"y":2,"v":0.67},
{"x":-7,"y":1.5,"v":-0.7},{"x":-6.5,"y":1.5,"v":-0.78},{"x":-6,"y":1.5,"v":-0.87},{"x":-5.5,"y":1.5,"v":-0.95},{"x":-5,"y":1.5,"v":-1.03},{"x":-4.5,"y":1.5,"v":-1.09},{"x":-4,"y":1.5,"v":-1.16},{"x":-3.5,"y":1.5,"v":-1.29},{"x":-3,"y":1.5,"v":-1.42},{"x":-2.5,"y":1.5,"v":-1.22},{"x":-2,"y":1.5,"v":-0.97},{"x":-1.5,"y":1.5,"v":-0.67},{"x":-1,"y":1.5,"v":-0.39},{"x":-0.5,"y":1.5,"v":-0.12},{"x":0,"y":1.5,"v":0.12},{"x":0.5,"y":1.5,"v":0.39},{"x":1,"y":1.5,"v":0.67},{"x":1.5,"y":1.5,"v":0.97},{"x":2,"y":1.5,"v":1.22},{"x":2.5,"y":1.5,"v":1.42},{"x":3,"y":1.5,"v":1.29},{"x":3.5,"y":1.5,"v":1.16},{"x":4,"y":1.5,"v":1.09},{"x":4.5,"y":1.5,"v":1.03},{"x":5,"y":1.5,"v":0.95},{"x":5.5,"y":1.5,"v":0.87},{"x":6,"y":1.5,"v":0.78},{"x":6.5,"y":1.5,"v":0.7},
{"x":-7,"y":1,"v":-0.72},{"x":-6.5,"y":1,"v":-0.8},{"x":-6,"y":1,"v":-0.89},{"x":-5.5,"y":1,"v":-0.97},{"x":-5,"y":1,"v":-1.04},{"x":-4.5,"y":1,"v":-1.1},{"x":-4,"y":1,"v":-1.17},{"x":-3.5,"y":1,"v":-1.31},{"x":-3,"y":1,"v":-1.42},{"x":-2.5,"y":1,"v":-1.24},{"x":-2,"y":1,"v":-0.99},{"x":-1.5,"y":1,"v":-0.68},{"x":-1,"y":1,"v":-0.4},{"x":-0.5,"y":1,"v":-0.12},{"x":0,"y":1,"v":0.12},{"x":0.5,"y":1,"v":0.4},{"x":1,"y":1,"v":0.68},{"x":1.5,"y":1,"v":0.99},{"x":2,"y":1,"v":1.24},{"x":2.5,"y":1,"v":1.42},{"x":3,"y":1,"v":1.31},{"x":3.5,"y":1,"v":1.17},{"x":4,"y":1,"v":1.1},{"x":4.5,"y":1,"v":1.04},{"x":5,"y":1,"v":0.97},{"x":5.5,"y":1,"v":0.89},{"x":6,"y":1,"v":0.8},{"x":6.5,"y":1,"v":0.72},
{"x":-7,"y":0.5,"v":-0.73},{"x":-6.5,"y":0.5,"v":-0.81},{"x":-6,"y":0.5,"v":-0.9},{"x":-5.5,"y":0.5,"v":-0.98},{"x":-5,"y":0.5,"v":-1.05},{"x":-4.5,"y":0.5,"v":-1.11},{"x":-4,"y":0.5,"v":-1.18},{"x":-3.5,"y":0.5,"v":-1.32},{"x":-3,"y":0.5,"v":-1.42},{"x":-2.5,"y":0.5,"v":-1.25},{"x":-2,"y":0.5,"v":-1.0},{"x":-1.5,"y":0.5,"v":-0.68},{"x":-1,"y":0.5,"v":-0.4},{"x":-0.5,"y":0.5,"v":-0.12},{"x":0,"y":0.5,"v":0.12},{"x":0.5,"y":0.5,"v":0.4},{"x":1,"y":0.5,"v":0.68},{"x":1.5,"y":0.5,"v":1.0},{"x":2,"y":0.5,"v":1.25},{"x":2.5,"y":0.5,"v":1.42},{"x":3,"y":0.5,"v":1.32},{"x":3.5,"y":0.5,"v":1.18},{"x":4,"y":0.5,"v":1.11},{"x":4.5,"y":0.5,"v":1.05},{"x":5,"y":0.5,"v":0.98},{"x":5.5,"y":0.5,"v":0.9},{"x":6,"y":0.5,"v":0.81},{"x":6.5,"y":0.5,"v":0.73},
{"x":-7,"y":0,"v":-0.73},{"x":-6.5,"y":0,"v":-0.81},{"x":-6,"y":0,"v":-0.9},{"x":-5.5,"y":0,"v":-0.98},{"x":-5,"y":0,"v":-1.05},{"x":-4.5,"y":0,"v":-1.11},{"x":-4,"y":0,"v":-1.18},{"x":-3.5,"y":0,"v":-1.32},{"x":-3,"y":0,"v":-1.42},{"x":-2.5,"y":0,"v":-1.25},{"x":-2,"y":0,"v":-1.0},{"x":-1.5,"y":0,"v":-0.68},{"x":-1,"y":0,"v":-0.4},{"x":-0.5,"y":0,"v":-0.12},{"x":0,"y":0,"v":0.12},{"x":0.5,"y":0,"v":0.4},{"x":1,"y":0,"v":0.68},{"x":1.5,"y":0,"v":1.0},{"x":2,"y":0,"v":1.25},{"x":2.5,"y":0,"v":1.42},{"x":3,"y":0,"v":1.32},{"x":3.5,"y":0,"v":1.18},{"x":4,"y":0,"v":1.11},{"x":4.5,"y":0,"v":1.05},{"x":5,"y":0,"v":0.98},{"x":5.5,"y":0,"v":0.9},{"x":6,"y":0,"v":0.81},{"x":6.5,"y":0,"v":0.73},
{"x":-7,"y":-0.5,"v":-0.73},{"x":-6.5,"y":-0.5,"v":-0.81},{"x":-6,"y":-0.5,"v":-0.9},{"x":-5.5,"y":-0.5,"v":-0.98},{"x":-5,"y":-0.5,"v":-1.05},{"x":-4.5,"y":-0.5,"v":-1.11},{"x":-4,"y":-0.5,"v":-1.18},{"x":-3.5,"y":-0.5,"v":-1.32},{"x":-3,"y":-0.5,"v":-1.42},{"x":-2.5,"y":-0.5,"v":-1.25},{"x":-2,"y":-0.5,"v":-1.0},{"x":-1.5,"y":-0.5,"v":-0.68},{"x":-1,"y":-0.5,"v":-0.4},{"x":-0.5,"y":-0.5,"v":-0.12},{"x":0,"y":-0.5,"v":0.12},{"x":0.5,"y":-0.5,"v":0.4},{"x":1,"y":-0.5,"v":0.68},{"x":1.5,"y":-0.5,"v":1.0},{"x":2,"y":-0.5,"v":1.25},{"x":2.5,"y":-0.5,"v":1.42},{"x":3,"y":-0.5,"v":1.32},{"x":3.5,"y":-0.5,"v":1.18},{"x":4,"y":-0.5,"v":1.11},{"x":4.5,"y":-0.5,"v":1.05},{"x":5,"y":-0.5,"v":0.98},{"x":5.5,"y":-0.5,"v":0.9},{"x":6,"y":-0.5,"v":0.81},{"x":6.5,"y":-0.5,"v":0.73},
{"x":-7,"y":-1,"v":-0.73},{"x":-6.5,"y":-1,"v":-0.81},{"x":-6,"y":-1,"v":-0.9},{"x":-5.5,"y":-1,"v":-0.98},{"x":-5,"y":-1,"v":-1.05},{"x":-4.5,"y":-1,"v":-1.11},{"x":-4,"y":-1,"v":-1.18},{"x":-3.5,"y":-1,"v":-1.32},{"x":-3,"y":-1,"v":-1.42},{"x":-2.5,"y":-1,"v":-1.25},{"x":-2,"y":-1,"v":-1.0},{"x":-1.5,"y":-1,"v":-0.68},{"x":-1,"y":-1,"v":-0.4},{"x":-0.5,"y":-1,"v":-0.12},{"x":0,"y":-1,"v":0.12},{"x":0.5,"y":-1,"v":0.4},{"x":1,"y":-1,"v":0.68},{"x":1.5,"y":-1,"v":1.0},{"x":2,"y":-1,"v":1.25},{"x":2.5,"y":-1,"v":1.42},{"x":3,"y":-1,"v":1.32},{"x":3.5,"y":-1,"v":1.18},{"x":4,"y":-1,"v":1.11},{"x":4.5,"y":-1,"v":1.05},{"x":5,"y":-1,"v":0.98},{"x":5.5,"y":-1,"v":0.9},{"x":6,"y":-1,"v":0.81},{"x":6.5,"y":-1,"v":0.73},
{"x":-7,"y":-1.5,"v":-0.72},{"x":-6.5,"y":-1.5,"v":-0.8},{"x":-6,"y":-1.5,"v":-0.89},{"x":-5.5,"y":-1.5,"v":-0.97},{"x":-5,"y":-1.5,"v":-1.04},{"x":-4.5,"y":-1.5,"v":-1.1},{"x":-4,"y":-1.5,"v":-1.17},{"x":-3.5,"y":-1.5,"v":-1.31},{"x":-3,"y":-1.5,"v":-1.42},{"x":-2.5,"y":-1.5,"v":-1.24},{"x":-2,"y":-1.5,"v":-0.99},{"x":-1.5,"y":-1.5,"v":-0.68},{"x":-1,"y":-1.5,"v":-0.4},{"x":-0.5,"y":-1.5,"v":-0.12},{"x":0,"y":-1.5,"v":0.12},{"x":0.5,"y":-1.5,"v":0.4},{"x":1,"y":-1.5,"v":0.68},{"x":1.5,"y":-1.5,"v":0.99},{"x":2,"y":-1.5,"v":1.24},{"x":2.5,"y":-1.5,"v":1.42},{"x":3,"y":-1.5,"v":1.31},{"x":3.5,"y":-1.5,"v":1.17},{"x":4,"y":-1.5,"v":1.1},{"x":4.5,"y":-1.5,"v":1.04},{"x":5,"y":-1.5,"v":0.97},{"x":5.5,"y":-1.5,"v":0.89},{"x":6,"y":-1.5,"v":0.8},{"x":6.5,"y":-1.5,"v":0.72},
{"x":-7,"y":-2,"v":-0.7},{"x":-6.5,"y":-2,"v":-0.78},{"x":-6,"y":-2,"v":-0.87},{"x":-5.5,"y":-2,"v":-0.95},{"x":-5,"y":-2,"v":-1.03},{"x":-4.5,"y":-2,"v":-1.09},{"x":-4,"y":-2,"v":-1.16},{"x":-3.5,"y":-2,"v":-1.29},{"x":-3,"y":-2,"v":-1.42},{"x":-2.5,"y":-2,"v":-1.22},{"x":-2,"y":-2,"v":-0.97},{"x":-1.5,"y":-2,"v":-0.67},{"x":-1,"y":-2,"v":-0.39},{"x":-0.5,"y":-2,"v":-0.12},{"x":0,"y":-2,"v":0.12},{"x":0.5,"y":-2,"v":0.39},{"x":1,"y":-2,"v":0.67},{"x":1.5,"y":-2,"v":0.97},{"x":2,"y":-2,"v":1.22},{"x":2.5,"y":-2,"v":1.42},{"x":3,"y":-2,"v":1.29},{"x":3.5,"y":-2,"v":1.16},{"x":4,"y":-2,"v":1.09},{"x":4.5,"y":-2,"v":1.03},{"x":5,"y":-2,"v":0.95},{"x":5.5,"y":-2,"v":0.87},{"x":6,"y":-2,"v":0.78},{"x":6.5,"y":-2,"v":0.7},
{"x":-7,"y":-2.5,"v":-0.67},{"x":-6.5,"y":-2.5,"v":-0.74},{"x":-6,"y":-2.5,"v":-0.83},{"x":-5.5,"y":-2.5,"v":-0.91},{"x":-5,"y":-2.5,"v":-0.99},{"x":-4.5,"y":-2.5,"v":-1.06},{"x":-4,"y":-2.5,"v":-1.13},{"x":-3.5,"y":-2.5,"v":-1.25},{"x":-3,"y":-2.5,"v":-1.4},{"x":-2.5,"y":-2.5,"v":-1.17},{"x":-2,"y":-2.5,"v":-0.92},{"x":-1.5,"y":-2.5,"v":-0.63},{"x":-1,"y":-2.5,"v":-0.37},{"x":-0.5,"y":-2.5,"v":-0.11},{"x":0,"y":-2.5,"v":0.11},{"x":0.5,"y":-2.5,"v":0.37},{"x":1,"y":-2.5,"v":0.63},{"x":1.5,"y":-2.5,"v":0.92},{"x":2,"y":-2.5,"v":1.17},{"x":2.5,"y":-2.5,"v":1.4},{"x":3,"y":-2.5,"v":1.25},{"x":3.5,"y":-2.5,"v":1.13},{"x":4,"y":-2.5,"v":1.06},{"x":4.5,"y":-2.5,"v":0.99},{"x":5,"y":-2.5,"v":0.91},{"x":5.5,"y":-2.5,"v":0.83},{"x":6,"y":-2.5,"v":0.74},{"x":6.5,"y":-2.5,"v":0.67},
{"x":-7,"y":-3,"v":-0.6},{"x":-6.5,"y":-3,"v":-0.67},{"x":-6,"y":-3,"v":-0.75},{"x":-5.5,"y":-3,"v":-0.83},{"x":-5,"y":-3,"v":-0.91},{"x":-4.5,"y":-3,"v":-0.99},{"x":-4,"y":-3,"v":-1.05},{"x":-3.5,"y":-3,"v":-1.1},{"x":-3,"y":-3,"v":-1.12},{"x":-2.5,"y":-3,"v":-0.98},{"x":-2,"y":-3,"v":-0.72},{"x":-1.5,"y":-3,"v":-0.45},{"x":-1,"y":-3,"v":-0.29},{"x":-0.5,"y":-3,"v":-0.1},{"x":0,"y":-3,"v":0.1},{"x":0.5,"y":-3,"v":0.29},{"x":1,"y":-3,"v":0.45},{"x":1.5,"y":-3,"v":0.72},{"x":2,"y":-3,"v":0.98},{"x":2.5,"y":-3,"v":1.12},{"x":3,"y":-3,"v":1.1},{"x":3.5,"y":-3,"v":1.05},{"x":4,"y":-3,"v":0.99},{"x":4.5,"y":-3,"v":0.91},{"x":5,"y":-3,"v":0.83},{"x":5.5,"y":-3,"v":0.75},{"x":6,"y":-3,"v":0.67},{"x":6.5,"y":-3,"v":0.6},
{"x":-7,"y":-3.5,"v":-0.51},{"x":-6.5,"y":-3.5,"v":-0.57},{"x":-6,"y":-3.5,"v":-0.64},{"x":-5.5,"y":-3.5,"v":-0.71},{"x":-5,"y":-3.5,"v":-0.79},{"x":-4.5,"y":-3.5,"v":-0.86},{"x":-4,"y":-3.5,"v":-0.92},{"x":-3.5,"y":-3.5,"v":-0.95},{"x":-3,"y":-3.5,"v":-0.9},{"x":-2.5,"y":-3.5,"v":-0.72},{"x":-2,"y":-3.5,"v":-0.53},{"x":-1.5,"y":-3.5,"v":-0.34},{"x":-1,"y":-3.5,"v":-0.24},{"x":-0.5,"y":-3.5,"v":-0.09},{"x":0,"y":-3.5,"v":0.09},{"x":0.5,"y":-3.5,"v":0.24},{"x":1,"y":-3.5,"v":0.34},{"x":1.5,"y":-3.5,"v":0.53},{"x":2,"y":-3.5,"v":0.72},{"x":2.5,"y":-3.5,"v":0.9},{"x":3,"y":-3.5,"v":0.95},{"x":3.5,"y":-3.5,"v":0.92},{"x":4,"y":-3.5,"v":0.86},{"x":4.5,"y":-3.5,"v":0.79},{"x":5,"y":-3.5,"v":0.71},{"x":5.5,"y":-3.5,"v":0.64},{"x":6,"y":-3.5,"v":0.57},{"x":6.5,"y":-3.5,"v":0.51},
{"x":-7,"y":-4,"v":-0.44},{"x":-6.5,"y":-4,"v":-0.49},{"x":-6,"y":-4,"v":-0.54},{"x":-5.5,"y":-4,"v":-0.6},{"x":-5,"y":-4,"v":-0.66},{"x":-4.5,"y":-4,"v":-0.72},{"x":-4,"y":-4,"v":-0.77},{"x":-3.5,"y":-4,"v":-0.78},{"x":-3,"y":-4,"v":-0.7},{"x":-2.5,"y":-4,"v":-0.48},{"x":-2,"y":-4,"v":-0.34},{"x":-1.5,"y":-4,"v":-0.27},{"x":-1,"y":-4,"v":-0.2},{"x":-0.5,"y":-4,"v":-0.08},{"x":0,"y":-4,"v":0.08},{"x":0.5,"y":-4,"v":0.2},{"x":1,"y":-4,"v":0.27},{"x":1.5,"y":-4,"v":0.34},{"x":2,"y":-4,"v":0.48},{"x":2.5,"y":-4,"v":0.7},{"x":3,"y":-4,"v":0.78},{"x":3.5,"y":-4,"v":0.77},{"x":4,"y":-4,"v":0.72},{"x":4.5,"y":-4,"v":0.66},{"x":5,"y":-4,"v":0.6},{"x":5.5,"y":-4,"v":0.54},{"x":6,"y":-4,"v":0.49},{"x":6.5,"y":-4,"v":0.44},
{"x":-7,"y":-4.5,"v":-0.38},{"x":-6.5,"y":-4.5,"v":-0.41},{"x":-6,"y":-4.5,"v":-0.45},{"x":-5.5,"y":-4.5,"v":-0.5},{"x":-5,"y":-4.5,"v":-0.55},{"x":-4.5,"y":-4.5,"v":-0.58},{"x":-4,"y":-4.5,"v":-0.59},{"x":-3.5,"y":-4.5,"v":-0.55},{"x":-3,"y":-4.5,"v":-0.42},{"x":-2.5,"y":-4.5,"v":-0.32},{"x":-2,"y":-4.5,"v":-0.27},{"x":-1.5,"y":-4.5,"v":-0.22},{"x":-1,"y":-4.5,"v":-0.16},{"x":-0.5,"y":-4.5,"v":-0.07},{"x":0,"y":-4.5,"v":0.07},{"x":0.5,"y":-4.5,"v":0.16},{"x":1,"y":-4.5,"v":0.22},{"x":1.5,"y":-4.5,"v":0.27},{"x":2,"y":-4.5,"v":0.32},{"x":2.5,"y":-4.5,"v":0.42},{"x":3,"y":-4.5,"v":0.55},{"x":3.5,"y":-4.5,"v":0.59},{"x":4,"y":-4.5,"v":0.58},{"x":4.5,"y":-4.5,"v":0.55},{"x":5,"y":-4.5,"v":0.5},{"x":5.5,"y":-4.5,"v":0.45},{"x":6,"y":-4.5,"v":0.41},{"x":6.5,"y":-4.5,"v":0.38},
{"x":-7,"y":-5,"v":-0.34},{"x":-6.5,"y":-5,"v":-0.37},{"x":-6,"y":-5,"v":-0.4},{"x":-5.5,"y":-5,"v":-0.43},{"x":-5,"y":-5,"v":-0.45},{"x":-4.5,"y":-5,"v":-0.45},{"x":-4,"y":-5,"v":-0.43},{"x":-3.5,"y":-5,"v":-0.37},{"x":-3,"y":-5,"v":-0.31},{"x":-2.5,"y":-5,"v":-0.27},{"x":-2,"y":-5,"v":-0.23},{"x":-1.5,"y":-5,"v":-0.19},{"x":-1,"y":-5,"v":-0.14},{"x":-0.5,"y":-5,"v":-0.06},{"x":0,"y":-5,"v":0.06},{"x":0.5,"y":-5,"v":0.14},{"x":1,"y":-5,"v":0.19},{"x":1.5,"y":-5,"v":0.23},{"x":2,"y":-5,"v":0.27},{"x":2.5,"y":-5,"v":0.31},{"x":3,"y":-5,"v":0.37},{"x":3.5,"y":-5,"v":0.43},{"x":4,"y":-5,"v":0.45},{"x":4.5,"y":-5,"v":0.45},{"x":5,"y":-5,"v":0.43},{"x":5.5,"y":-5,"v":0.4},{"x":6,"y":-5,"v":0.37},{"x":6.5,"y":-5,"v":0.34}
],
"lines":[
{"x1":-17.5,"x2":17.5,"y1":10,"y2":10},{"x1":-17.5,"x2":17.5,"y1":-10,"y2":-10},
{"x1":-17.5,"x2":-17.5,"y1":-10,"y2":10},{"x1":17.5,"x2":17.5,"y1":-10,"y2":10},
{"x1":-17.5,"x2":17.5,"y1":2.5,"y2":2.5},{"x1":-17.5,"x2":17.5,"y1":-2.5,"y2":-2.5},
{"x1":-2.5,"x2":-2.5,"y1":-10,"y2":10},{"x1":2.5,"x2":2.5,"y1":-10,"y2":10}
],
"plates":[{"x1":-3,"x2":-2.5,"y1":-2.5,"y2":2.5},{"x1":2.5,"x2":3,"y1":-2.5,"y2":2.5}],
"bar":[{"a":0,"b":1,"lo":-1.428,"hi":1.428}],
"marks":[{"x":0.67,"y":1.661,"t":"▲ 1.428"},{"x":0.81,"y":-1.676,"t":"▼ −1.428"}],
"logo":[{"x":1.3,"y":1.848,"t":"COMSOL"},{"x":0.4,"y":1.785,"t":"MULTIPHYSICS"}]
},
"spacing":63,
"bounds":"flush",
"hconcat":[
{
"width":806,"height":694,
"title":{"text":"freq(1)=50000\u00a0 Surface: Electric potential (V)","font":"DejaVu Sans","fontSize":16,"fontWeight":"normal","color":"#222","anchor":"middle","dx":-11,"offset":24},
"layer":[
{"data":{"name":"field"},"mark":{"type":"rect","binSpacing":0,"strokeWidth":0.6},
"encoding":{
"x":{"field":"x","type":"quantitative","bin":{"binned":true,"step":1},"scale":{"domain":[-18.9,18.9],"nice":false,"zero":false},
"axis":{"orient":"bottom","values":[-15,-10,-5,0,5,10,15],"format":"d","title":null,"tickSize":-7,"labelPadding":19}},
"y":{"field":"y","type":"quantitative","bin":{"binned":true,"step":1},"scale":{"domain":[-16.6,16.6],"nice":false,"zero":false},
"axis":{"orient":"left","values":[-15,-10,-5,0,5,10,15],"format":"d","title":null,"tickSize":-7,"labelPadding":17}},
"color":{"field":"v","type":"quantitative","scale":{"domain":[-1.428,-1.071,-0.357,0.357,1.071,1.428],"range":["#00008f","#0000ff","#00ffff","#ffff00","#ff0000","#800000"]},"legend":null},
"stroke":{"field":"v","type":"quantitative","scale":{"domain":[-1.428,-1.071,-0.357,0.357,1.071,1.428],"range":["#00008f","#0000ff","#00ffff","#ffff00","#ff0000","#800000"]},"legend":null}
}},
{"data":{"name":"fine"},"mark":{"type":"rect","binSpacing":0,"strokeWidth":0.6},
"encoding":{
"x":{"field":"x","type":"quantitative","bin":{"binned":true,"step":0.5},"scale":{"domain":[-18.9,18.9],"nice":false,"zero":false},"axis":null},
"y":{"field":"y","type":"quantitative","bin":{"binned":true,"step":0.5},"scale":{"domain":[-16.6,16.6],"nice":false,"zero":false},"axis":null},
"color":{"field":"v","type":"quantitative","scale":{"domain":[-1.428,-1.071,-0.357,0.357,1.071,1.428],"range":["#00008f","#0000ff","#00ffff","#ffff00","#ff0000","#800000"]},"legend":null},
"stroke":{"field":"v","type":"quantitative","scale":{"domain":[-1.428,-1.071,-0.357,0.357,1.071,1.428],"range":["#00008f","#0000ff","#00ffff","#ffff00","#ff0000","#800000"]},"legend":null}
}},
{"data":{"name":"lines"},"mark":{"type":"rule","color":"#1e1e1e","strokeWidth":1.2},
"encoding":{
"x":{"field":"x1","type":"quantitative","scale":{"domain":[-18.9,18.9],"nice":false,"zero":false},"axis":{"orient":"top","values":[-15,-10,-5,0,5,10,15],"labels":false,"title":null,"tickSize":-7}},
"x2":{"field":"x2"},
"y":{"field":"y1","type":"quantitative","scale":{"domain":[-16.6,16.6],"nice":false,"zero":false},"axis":{"orient":"right","values":[-15,-10,-5,0,5,10,15],"labels":false,"title":null,"tickSize":-7}},
"y2":{"field":"y2"}
}},
{"data":{"name":"plates"},"mark":{"type":"rect","color":"#ffffff"},
"encoding":{
"x":{"field":"x1","type":"quantitative","scale":{"domain":[-18.9,18.9],"nice":false,"zero":false},"axis":null},
"x2":{"field":"x2"},
"y":{"field":"y1","type":"quantitative","scale":{"domain":[-16.6,16.6],"nice":false,"zero":false},"axis":null},
"y2":{"field":"y2"}
}}
],
"resolve":{"axis":{"x":"independent","y":"independent"}}
},
{
"width":21,"height":694,
"layer":[
{"data":{"name":"bar"},"mark":{"type":"rect","stroke":"#333","strokeWidth":1,"fill":{"gradient":"linear","x1":0,"y1":1,"x2":0,"y2":0,"stops":[{"offset":0,"color":"#00008f"},{"offset":0.125,"color":"#0000ff"},{"offset":0.375,"color":"#00ffff"},{"offset":0.625,"color":"#ffff00"},{"offset":0.875,"color":"#ff0000"},{"offset":1,"color":"#800000"}]}},
"encoding":{
"x":{"field":"a","type":"quantitative","scale":{"domain":[0,1],"nice":false,"zero":false},"axis":null},
"x2":{"field":"b"},
"y":{"field":"lo","type":"quantitative","scale":{"domain":[-1.706,1.676],"nice":false,"zero":false},"axis":{"orient":"right","values":[-1,-0.5,0,0.5,1],"format":"~g","title":null,"tickSize":-4,"labelPadding":12,"domain":false}},
"y2":{"field":"hi"}
}},
{"data":{"name":"marks"},"mark":{"type":"text","font":"DejaVu Sans","fontSize":14,"color":"#222","align":"center","baseline":"middle"},
"encoding":{
"x":{"field":"x","type":"quantitative","scale":{"domain":[0,1],"nice":false,"zero":false},"axis":null},
"y":{"field":"y","type":"quantitative","scale":{"domain":[-1.706,1.676],"nice":false,"zero":false},"axis":null},
"text":{"field":"t"}
}},
{"data":{"name":"logo"},"mark":{"type":"text","font":"DejaVu Sans","fontSize":11,"color":"#c9d2dd","align":"center","baseline":"middle"},
"encoding":{
"x":{"field":"x","type":"quantitative","scale":{"domain":[0,1],"nice":false,"zero":false},"axis":null},
"y":{"field":"y","type":"quantitative","scale":{"domain":[-1.706,1.676],"nice":false,"zero":false},"axis":null},
"text":{"field":"t"}
}}
]
}
]
}
